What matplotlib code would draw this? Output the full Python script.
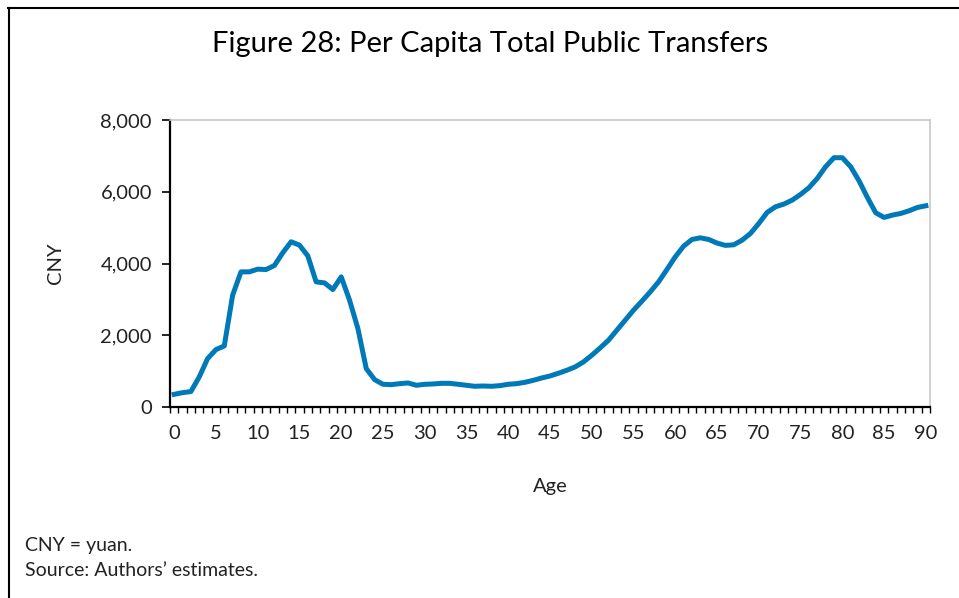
import matplotlib
matplotlib.use("Agg")
import matplotlib.pyplot as plt
from matplotlib.lines import Line2D
from matplotlib.ticker import FuncFormatter, FixedLocator

ages = list(range(0, 91))
transfers = [
    353, 400, 430, 837, 1349, 1600, 1702, 3116, 3767, 3767,
    3842, 3832, 3944, 4298, 4605, 4512, 4214, 3488, 3460, 3274,
    3628, 2977, 2186, 1070, 763, 633, 623, 651, 670, 605,
    633, 642, 660, 660, 633, 605, 577, 586, 577, 595,
    633, 651, 688, 744, 809, 865, 940, 1023, 1116, 1256,
    1442, 1647, 1860, 2140, 2419, 2698, 2949, 3209, 3488, 3832,
    4186, 4484, 4670, 4716, 4670, 4570, 4505, 4521, 4650, 4837,
    5116, 5423, 5581, 5656, 5767, 5925, 6112, 6372, 6697, 6949,
    6949, 6697, 6307, 5842, 5414, 5284, 5349, 5395, 5470, 5563,
    5609,
]
y_ticks = [0, 2000, 4000, 6000, 8000]
x_label_ticks = list(range(0, 91, 5))

title = "Figure 28: Per Capita Total Public Transfers"
notes = ["CNY = yuan.", "Source: Authors\u2019 estimates."]

plt.rcParams['font.family'] = ['Lato', 'DejaVu Sans']

fig = plt.figure(figsize=(9.59, 5.98), dpi=100)
ax = fig.add_axes([170/959, 1 - 407/598, 760/959, 287/598])

ax.plot(ages, transfers, color="#0079B9", linewidth=3.6, solid_joinstyle="round")

ax.set_xlim(-0.5, 90.5)
ax.set_ylim(0, 8000)
ax.set_yticks(y_ticks)
ax.yaxis.set_major_formatter(FuncFormatter(lambda v, p: f"{int(v):,}"))
ax.set_xticks(x_label_ticks)
ax.xaxis.set_minor_locator(FixedLocator([a - 0.5 for a in range(0, 92)]))
ax.tick_params(axis="x", which="major", length=0, pad=13, labelsize=14.5, colors="#222222")
ax.tick_params(axis="x", which="minor", length=4, width=1.0, color="black", direction="out")
ax.tick_params(axis="y", which="major", length=6, width=1.2, color="black", direction="out",
               pad=7, labelsize=14.5, labelcolor="#222222")

for s in ["left", "bottom"]:
    ax.spines[s].set_color("black")
    ax.spines[s].set_linewidth(1.6)
for s in ["top", "right"]:
    ax.spines[s].set_color("#c8c8c8")
    ax.spines[s].set_linewidth(1.2)

ax.set_ylabel("CNY", fontsize=14.5, color="#222222", labelpad=26)
ax.set_xlabel("Age", fontsize=14.5, color="#222222", labelpad=26)

fig.text(490/959, 1 - 44/598, title, ha="center", va="center", fontsize=21, color="black")
fig.text(25/959, 1 - 545/598, notes[0], ha="left", va="center", fontsize=14, color="#222222")
fig.text(25/959, 1 - 571/598, notes[1], ha="left", va="center", fontsize=14, color="#222222")

fig.add_artist(Line2D([8.5/959, 8.5/959], [0, 1 - 7.5/598], transform=fig.transFigure,
                      color="black", linewidth=1.5))
fig.add_artist(Line2D([8/959, 1], [1 - 7.5/598, 1 - 7.5/598], transform=fig.transFigure,
                      color="black", linewidth=1.5))

fig.savefig("out.png", dpi=100)
